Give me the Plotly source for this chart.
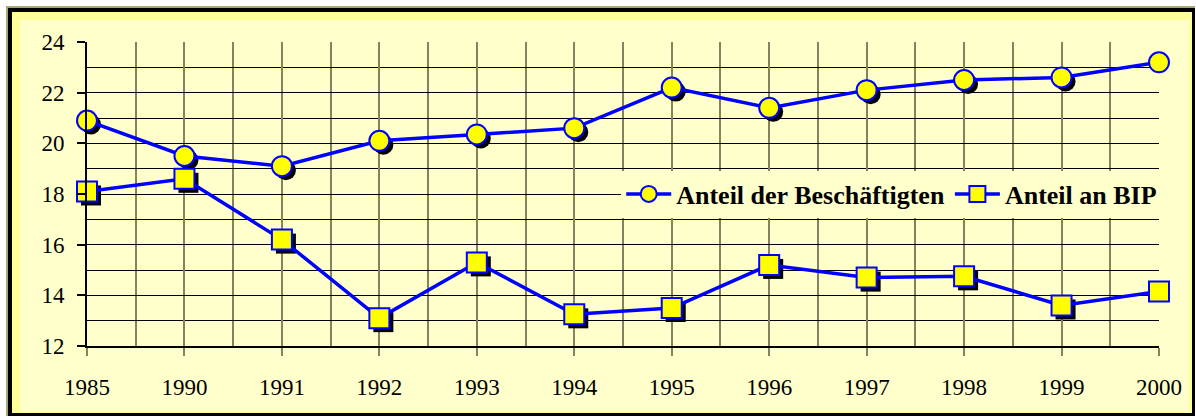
import plotly.graph_objects as go

years = ["1985", "1990", "1991", "1992", "1993", "1994", "1995", "1996", "1997", "1998", "1999", "2000"]
anteil_beschaeftigte = [20.9, 19.5, 19.1, 20.1, 20.35, 20.6, 22.2, 21.4, 22.1, 22.5, 22.6, 23.2]
anteil_bip = [18.1, 18.6, 16.2, 13.1, 15.3, 13.25, 13.5, 15.2, 14.7, 14.75, 13.6, 14.15]
name_b = "Anteil der Beschäftigten"
name_bip = "Anteil an BIP"

W, H = 1196, 419
ML, MR, MT, MB = 87, 37, 42, 73
PW, PH = W - ML - MR, H - MT - MB
XR = [0, len(years) - 1]
YR = [12, 24]

xi = list(range(len(years)))
# shadow offset (pixels -> data units)
SX = 4 * (XR[1] - XR[0]) / PW
SY = 4 * (YR[1] - YR[0]) / PH

BLUE = "#0000ff"
YEL = "#ffff00"
FONT = "Liberation Serif"
GRIDV = "#85825f"

fig = go.Figure()
for vals, sym in [(anteil_beschaeftigte, "circle"), (anteil_bip, "square")]:
    fig.add_trace(go.Scatter(
        x=[v + SX for v in xi], y=[v - SY for v in vals], mode="markers",
        marker=dict(symbol=sym, size=20, color="black", line=dict(width=0)),
        showlegend=False, hoverinfo="skip", cliponaxis=False))
for vals, sym, nm in [(anteil_beschaeftigte, "circle", name_b), (anteil_bip, "square", name_bip)]:
    fig.add_trace(go.Scatter(
        x=xi, y=vals, mode="lines+markers", name=nm,
        line=dict(color=BLUE, width=3.5),
        marker=dict(symbol=sym, size=20, color=YEL, line=dict(color=BLUE, width=2)),
        cliponaxis=False))

def px_x(p):
    return (p - ML) / PW

def px_y(p):
    return (H - MB - p) / PH

shapes = []
for (x0, y0, x1, y1, col) in [
    (6, 6, 1195, 416, "#a9a66e"),
    (8, 8, 1195, 416, "#000000"),
    (12, 12, 1192, 413, "#ffff99"),
    (20, 20, 1189, 412, "#ffffcc"),
]:
    shapes.append(dict(type="rect", xref="paper", yref="paper", layer="below",
                       x0=px_x(x0), x1=px_x(x1), y0=px_y(y1), y1=px_y(y0),
                       fillcolor=col, line=dict(width=0)))

fig.update_layout(
    width=W, height=H,
    margin=dict(l=ML, r=MR, t=MT, b=MB),
    paper_bgcolor="white", plot_bgcolor="rgba(0,0,0,0)",
    shapes=shapes,
    font=dict(family=FONT, size=23, color="black"),
    showlegend=True,
    legend=dict(orientation="h", x=1.003, xanchor="right", y=0.5, yanchor="middle",
                bgcolor="#ffffcc", borderwidth=0, itemwidth=45,
                font=dict(family=FONT, size=26, color="black", weight="bold"),
                tracegroupgap=0),
    xaxis=dict(range=XR, tickmode="array", tickvals=xi, ticktext=years,
               showgrid=True, gridcolor=GRIDV, gridwidth=1.5,
               minor=dict(dtick=0.5, tick0=0, showgrid=True, gridcolor=GRIDV, gridwidth=1.5, ticks=""),
               ticks="outside", ticklen=8, tickcolor=GRIDV, tickwidth=1.5,
               showline=True, linecolor="black", linewidth=1.5,
               zeroline=False, ticklabelstandoff=12,
               tickfont=dict(family=FONT, size=23)),
    yaxis=dict(range=YR, tickmode="linear", tick0=12, dtick=2,
               showgrid=True, gridcolor="black", gridwidth=1,
               minor=dict(dtick=1, tick0=12, showgrid=True, gridcolor="black", gridwidth=1, ticks=""),
               ticks="outside", ticklen=8, tickcolor="black", tickwidth=1.5,
               showline=True, linecolor="black", linewidth=2,
               zeroline=False, ticklabelstandoff=8,
               tickfont=dict(family=FONT, size=23)),
)

fig.write_html("out.html", config={"displayModeBar": False},
               post_script="document.body.style.margin='0';document.body.style.overflow='hidden';")
